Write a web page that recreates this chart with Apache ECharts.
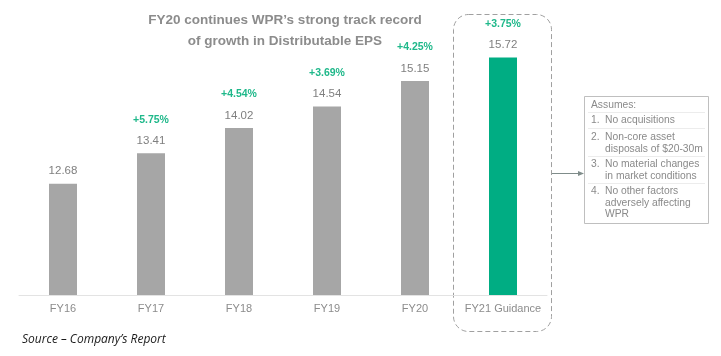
<!DOCTYPE html>
<html><head><meta charset="utf-8">
<script src="https://cdn.jsdelivr.net/npm/echarts@6/dist/echarts.min.js"></script>
<style>html,body{margin:0;padding:0;background:#fff}#c{width:721px;height:356px}</style>
</head><body><div id="c"></div>
<script>
var categories = ['FY16','FY17','FY18','FY19','FY20','FY21 Guidance'];
var eps = [12.68, 13.41, 14.02, 14.54, 15.15, 15.72];
var growth = ['', '+5.75%', '+4.54%', '+3.69%', '+4.25%', '+3.75%'];

var chart = echarts.init(document.getElementById('c'));
var data = eps.map(function(v, i){
  return {
    value: v,
    itemStyle: {color: i === 5 ? '#00ad83' : '#a6a6a6'}
  };
});
var font = 'Liberation Sans, Arial, sans-serif';
var boxLines = [
  {t:'Assumes:', x:591, y:105},
  {t:'1.', x:591, y:120}, {t:'No acquisitions', x:605, y:120},
  {t:'2.', x:591, y:137}, {t:'Non-core asset', x:605, y:137}, {t:'disposals of $20-30m', x:605, y:149},
  {t:'3.', x:591, y:164}, {t:'No material changes', x:605, y:164}, {t:'in market conditions', x:605, y:176},
  {t:'4.', x:591, y:191}, {t:'No other factors', x:605, y:191}, {t:'adversely affecting', x:605, y:203}, {t:'WPR', x:605, y:214}
];
var graphics = [
  {type:'text', x:285, y:20, style:{text:'FY20 continues WPR\u2019s strong track record', fill:'#8c8c8c', font:'bold 13.5px ' + font, textAlign:'center', textVerticalAlign:'middle'}},
  {type:'text', x:285, y:41, style:{text:'of growth in Distributable EPS', fill:'#8c8c8c', font:'bold 13.5px ' + font, textAlign:'center', textVerticalAlign:'middle'}},
  {type:'rect', shape:{x:453.5, y:14.5, width:98, height:317, r:15}, style:{fill:'none', stroke:'#a0a0a0', lineWidth:1, lineDash:[5,3]}},
  {type:'line', shape:{x1:552, y1:173.5, x2:580, y2:173.5}, style:{stroke:'#7f8c8a', lineWidth:1}},
  {type:'polygon', shape:{points:[[584,173.5],[578,171],[578,176]]}, style:{fill:'#7f8c8a'}},
  {type:'rect', shape:{x:584.5, y:96.5, width:124, height:127}, style:{fill:'#fff', stroke:'#bfbfbf', lineWidth:1}},
  {type:'text', x:22, y:340, style:{text:'Source \u2013 Company\u2019s Report', fill:'#1a1a1a', font:'italic 12px "Open Sans", sans-serif', textVerticalAlign:'middle'}}
];
[112.5, 128.5, 156.5, 183.5].forEach(function(y){
  graphics.push({type:'line', shape:{x1:588, y1:y, x2:705, y2:y}, style:{stroke:'#ececec', lineWidth:1}});
});
boxLines.forEach(function(l){
  graphics.push({type:'text', x:l.x, y:l.y, style:{text:l.t, fill:'#8a8a8a', font:'10.3px ' + font, textVerticalAlign:'middle'}});
});

chart.setOption({
  animation:false,
  grid:{left:19, right:174, top:25, bottom:61},
  xAxis:{type:'category', data:categories,
    axisLine:{lineStyle:{color:'#e3e3e3'}}, axisTick:{show:false},
    axisLabel:{interval:0, color:'#8c8c8c', fontSize:11, fontFamily:font, margin:8}},
  yAxis:{type:'value', min:10, max:16.5, show:false, splitLine:{show:false}},
  series:[{type:'bar', data:data, barWidth:28,
    label:{show:true, position:'top', distance:2,
      formatter:function(p){ var g = growth[p.dataIndex]; return (g ? '{g|' + g + '}\n' : '') + '{v|' + eps[p.dataIndex].toFixed(2) + '}'; },
      rich:{
        g:{color:'#1fb88a', fontSize:10.5, fontWeight:'bold', fontFamily:font, lineHeight:21},
        v:{color:'#7f7f7f', fontSize:11.5, fontFamily:font, lineHeight:21}
      }}
  }],
  graphic:graphics
});
</script></body></html>
